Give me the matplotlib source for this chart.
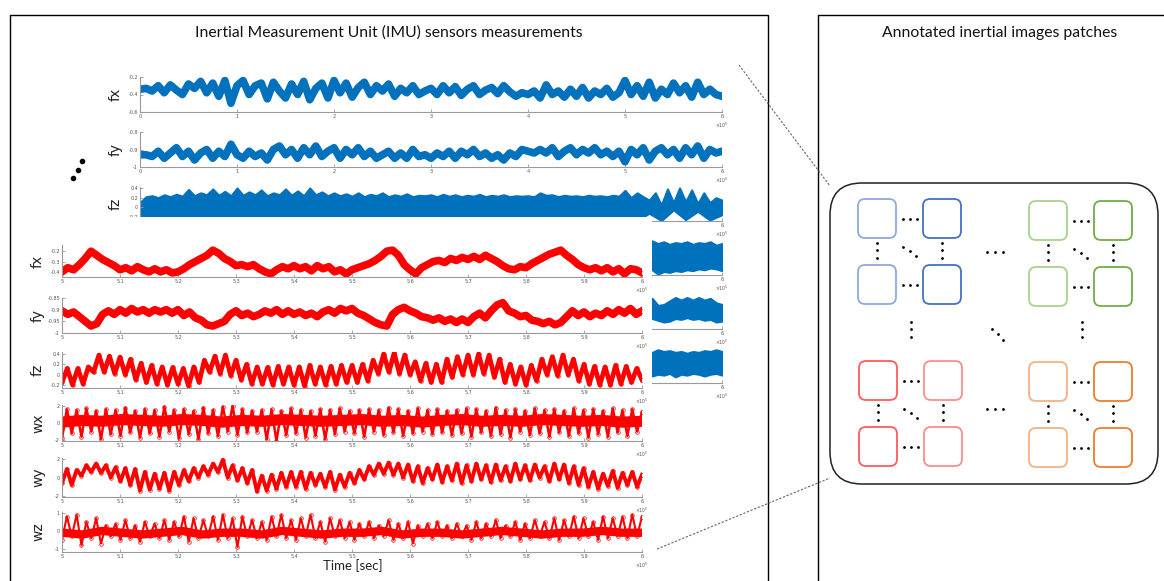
import numpy as np
import matplotlib
matplotlib.use('Agg')
import matplotlib.pyplot as plt
from matplotlib.patches import Rectangle, FancyBboxPatch

W, H = 1164, 581
plt.rcParams['axes.unicode_minus'] = False
TITLE_FONT = ['Lato', 'DejaVu Sans']

# ---------------- data ----------------
# blue stack: full recording, x in [0, 6e5]
blue_fx = [-0.34, -0.33, -0.36, -0.30, -0.38, -0.29, -0.35, -0.40, -0.28, -0.33, -0.25, -0.38, -0.27, -0.42, -0.24, -0.50,
           -0.30, -0.24, -0.40, -0.30, -0.27, -0.45, -0.26, -0.36, -0.44, -0.28, -0.40, -0.25, -0.46, -0.33, -0.27, -0.44,
           -0.24, -0.38, -0.27, -0.43, -0.32, -0.26, -0.40, -0.30, -0.36, -0.28, -0.42, -0.33, -0.38, -0.30, -0.40, -0.36,
           -0.33, -0.40, -0.30, -0.38, -0.31, -0.41, -0.34, -0.30, -0.40, -0.35, -0.32, -0.39, -0.30, -0.37, -0.42, -0.38,
           -0.40, -0.36, -0.44, -0.29, -0.40, -0.36, -0.43, -0.34, -0.42, -0.32, -0.44, -0.36, -0.40, -0.33, -0.43, -0.38,
           -0.24, -0.40, -0.30, -0.42, -0.26, -0.44, -0.34, -0.40, -0.27, -0.38, -0.30, -0.43, -0.26, -0.40, -0.34, -0.40,
           -0.42]
blue_fy = [-0.93, -0.93, -0.94, -0.91, -0.95, -0.92, -0.89, -0.94, -0.91, -0.96, -0.92, -0.90, -0.95, -0.91, -0.94, -0.87,
           -0.93, -0.95, -0.91, -0.94, -0.92, -0.96, -0.90, -0.88, -0.93, -0.90, -0.95, -0.89, -0.93, -0.88, -0.94, -0.91,
           -0.89, -0.95, -0.90, -0.93, -0.89, -0.94, -0.91, -0.95, -0.93, -0.91, -0.95, -0.92, -0.95, -0.90, -0.94, -0.93,
           -0.95, -0.92, -0.94, -0.91, -0.95, -0.91, -0.93, -0.90, -0.94, -0.92, -0.95, -0.93, -0.96, -0.92, -0.94, -0.90,
           -0.91, -0.92, -0.90, -0.92, -0.89, -0.94, -0.91, -0.89, -0.93, -0.90, -0.92, -0.89, -0.93, -0.91, -0.94, -0.91,
           -0.97, -0.90, -0.93, -0.89, -0.96, -0.91, -0.89, -0.93, -0.90, -0.95, -0.89, -0.93, -0.88, -0.95, -0.90, -0.92,
           -0.91]
blue_fz_hi = [0.10, 0.22, 0.24, 0.20, 0.26, 0.22, 0.27, 0.23, 0.37, 0.24, 0.30, 0.26, 0.38, 0.25, 0.33, 0.24,
              0.40, 0.25, 0.32, 0.26, 0.36, 0.24, 0.30, 0.26, 0.38, 0.25, 0.34, 0.24, 0.40, 0.26, 0.32, 0.24,
              0.30, 0.24, 0.28, 0.23, 0.30, 0.22, 0.27, 0.24, 0.30, 0.22, 0.26, 0.23, 0.28, 0.22, 0.25, 0.24,
              0.26, 0.22, 0.27, 0.23, 0.26, 0.22, 0.25, 0.23, 0.27, 0.22, 0.25, 0.23, 0.26, 0.22, 0.24, 0.23,
              0.24, 0.22, 0.30, 0.25, 0.26, 0.22, 0.25, 0.23, 0.24, 0.22, 0.25, 0.23, 0.24, 0.22, 0.25, 0.23,
              0.35, 0.20, 0.30, 0.22, 0.15, 0.30, 0.05, 0.38, 0.10, 0.40, 0.12, 0.36, 0.08, 0.30, 0.10, 0.20,
              0.15]
blue_fz_lo = [-0.24, -0.26, -0.24, -0.26, -0.24, -0.26, -0.24, -0.26, -0.24, -0.26, -0.24, -0.26, -0.24, -0.26,
              -0.24, -0.26, -0.24, -0.26, -0.24, -0.26, -0.24, -0.26, -0.24, -0.26, -0.24, -0.26, -0.24, -0.26,
              -0.24, -0.26, -0.24, -0.26, -0.24, -0.26, -0.24, -0.26, -0.24, -0.26, -0.24, -0.26, -0.24, -0.26,
              -0.12, -0.27, -0.05, -0.25, -0.08, -0.26, -0.15]
# right-hand ends of the hidden blue gyro panels, x in [5.28e5, 6e5]
blue_wx_hi = [1.9, 1.6, 1.8, 1.5, 1.7, 1.6, 1.8, 1.5, 1.7, 1.6, 1.8, 1.4, 1.6]
blue_wx_lo = [-1.4, -1.9, -1.6, -1.7, -1.5, -1.6, -1.4, -1.5, -1.3, -1.4, -1.2, -1.3, -1.5]
blue_wy_hi = [1.5, 0.7, 0.8, 1.2, 1.6, 1.3, 1.6, 1.3, 1.6, 1.3, 1.5, 1.0, 0.8]
blue_wy_lo = [-0.8, -1.0, -1.2, -1.1, -0.8, -0.9, -0.7, -0.9, -0.8, -1.0, -0.9, -1.2, -1.1]
blue_wz_hi = [1.5, 1.8, 1.6, 1.7, 1.5, 1.6, 1.4, 1.6, 1.5, 1.7, 1.6, 1.8, 1.6]
blue_wz_lo = [-1.2, -1.0, -1.1, -0.9, -1.3, -1.0, -1.1, -0.9, -1.0, -1.2, -1.0, -0.9, -1.1]

# red stack: zoom on x in [5e5, 6e5]
red_fx = [-0.40, -0.36, -0.38, -0.33, -0.27, -0.20, -0.24, -0.28, -0.31, -0.34,
          -0.38, -0.36, -0.39, -0.35, -0.38, -0.40, -0.37, -0.40, -0.38, -0.41,
          -0.40, -0.37, -0.33, -0.30, -0.27, -0.24, -0.19, -0.22, -0.27, -0.30,
          -0.34, -0.33, -0.35, -0.33, -0.37, -0.40, -0.42, -0.38, -0.35, -0.37,
          -0.34, -0.37, -0.35, -0.39, -0.34, -0.37, -0.35, -0.40, -0.38, -0.42,
          -0.38, -0.36, -0.34, -0.32, -0.29, -0.25, -0.20, -0.19, -0.24, -0.33,
          -0.38, -0.42, -0.36, -0.33, -0.30, -0.29, -0.31, -0.27, -0.29, -0.26,
          -0.28, -0.25, -0.28, -0.24, -0.27, -0.30, -0.34, -0.37, -0.38, -0.35,
          -0.36, -0.32, -0.29, -0.26, -0.23, -0.21, -0.19, -0.24, -0.28, -0.33,
          -0.36, -0.38, -0.36, -0.39, -0.36, -0.40, -0.37, -0.42, -0.37, -0.38,
          -0.41]
red_fy = [-0.905, -0.92, -0.91, -0.93, -0.95, -0.97, -0.96, -0.92, -0.905, -0.92,
          -0.90, -0.915, -0.895, -0.91, -0.90, -0.915, -0.90, -0.91, -0.90, -0.915,
          -0.90, -0.925, -0.91, -0.935, -0.945, -0.965, -0.97, -0.96, -0.95, -0.92,
          -0.905, -0.925, -0.915, -0.93, -0.92, -0.905, -0.915, -0.90, -0.92, -0.905,
          -0.92, -0.91, -0.925, -0.915, -0.93, -0.91, -0.90, -0.915, -0.895, -0.905,
          -0.895, -0.915, -0.925, -0.94, -0.955, -0.965, -0.97, -0.92, -0.90, -0.89,
          -0.905, -0.915, -0.93, -0.935, -0.945, -0.935, -0.95, -0.94, -0.955, -0.94,
          -0.955, -0.93, -0.915, -0.935, -0.905, -0.88, -0.87, -0.905, -0.915, -0.93,
          -0.925, -0.945, -0.95, -0.96, -0.95, -0.965, -0.955, -0.93, -0.905, -0.925,
          -0.91, -0.93, -0.915, -0.925, -0.905, -0.92, -0.90, -0.915, -0.895, -0.92,
          -0.905]
red_fz = [-0.15, 0.12, -0.20, 0.12, -0.18, 0.15, 0.05, 0.38, 0.05, 0.36, 0.02,
          0.34, 0.00, 0.30, -0.10, 0.22, -0.15, 0.18, -0.18, 0.15, -0.20, 0.14,
          -0.18, 0.12, -0.22, 0.15, -0.15, 0.28, 0.05, 0.36, 0.02, 0.38, -0.02,
          0.28, -0.10, 0.20, -0.18, 0.15, -0.18, 0.14, -0.20, 0.16, -0.18, 0.15,
          -0.20, 0.15, -0.22, 0.18, -0.18, 0.15, -0.20, 0.16, -0.18, 0.18, -0.15,
          0.18, -0.15, 0.20, -0.12, 0.28, 0.02, 0.40, 0.05, 0.42, 0.02, 0.38,
          0.00, 0.25, -0.12, 0.22, -0.15, 0.20, -0.15, 0.30, -0.05, 0.35, 0.00,
          0.38, 0.00, 0.40, 0.02, 0.38, -0.05, 0.30, -0.15, 0.20, -0.18, 0.15,
          -0.20, 0.18, -0.12, 0.30, 0.00, 0.35, -0.02, 0.38, 0.00, 0.30, -0.12,
          0.20, -0.18, 0.16, -0.20, 0.15, -0.20, 0.18, -0.18, 0.16, -0.15, 0.12,
          -0.10]
red_wx_peaks = [1.6, 1.5, 1.7, 1.4, 1.6, 1.5, 1.8, 1.4, 1.6, 1.5, 1.9, 1.5, 1.6, 1.4, 1.8, 1.5, 1.9, 2.0, 1.6, 1.4,
                1.5, 1.6, 1.4, 1.7, 1.5, 1.4, 1.6, 1.5, 1.7, 1.4, 1.5, 1.6, 1.5, 1.8, 1.6, 1.4, 1.7, 1.5, 1.6, 1.4,
                1.5, 1.7, 1.6, 1.4, 1.8, 1.5, 1.6, 1.4, 1.7, 1.5, 1.6, 1.4, 1.7, 1.5, 1.6, 1.4, 1.7, 1.5, 1.6, 1.3]
red_wx_troughs = [-1.8, -1.2, -1.6, -1.0, -1.9, -1.3, -1.5, -1.1, -1.7, -1.2, -1.6, -1.0, -1.8, -1.3, -1.9, -1.2,
                  -1.5, -1.0, -1.4, -1.1, -1.0, -1.9, -2.1, -1.4, -1.2, -1.7, -1.5, -1.9, -1.3, -1.0, -1.2, -1.6,
                  -1.0, -1.4, -1.1, -1.5, -1.2, -1.0, -1.3, -1.1, -1.4, -1.2, -1.6, -1.1, -1.5, -1.3, -1.7, -1.0,
                  -1.4, -1.2, -1.6, -1.1, -1.5, -1.2, -1.7, -1.3, -1.6, -1.1, -1.5, -1.0]
red_wx_core = [0.1, 0.3, 0.2, 0.4, 0.3, 0.2, 0.4, 0.3, 0.1, 0.3, 0.2, 0.4, 0.3, 0.2, 0.3,
               0.4, 0.2, 0.3, 0.1, 0.3, 0.4, 0.2, 0.3, 0.2, 0.4, 0.3, 0.2, 0.3, 0.1, 0.2]
red_wy_peaks = [0.9, 0.8, 1.3, 1.5, 1.3, 1.1, 1.0, 0.9, 0.6, 0.4, 0.5, 0.6, 0.8, 1.0, 1.2, 1.5, 1.9, 1.3,
                1.0, 0.8, 0.2, 0.3, 0.5, 0.6, 0.6, 0.5, 0.4, 0.6, 0.3, 0.5, 0.8, 1.2, 1.5, 1.6, 1.5, 1.4,
                1.2, 1.0, 1.4, 1.2, 1.5, 1.3, 1.5, 1.3, 1.4, 1.2, 1.5, 1.3, 1.4, 1.2, 1.5, 1.4, 1.2, 1.0,
                0.6, 0.4, 0.7, 0.5, 0.6, 0.3]
red_wy_troughs = [-0.6, -0.8, 0.2, 0.6, 0.5, 0.0, -0.4, -0.8, -1.4, -1.3, -1.2, -1.4, -0.8, -0.4, 0.0, 0.3, 0.6, 0.0,
                  -0.3, -0.6, -1.5, -1.4, -1.2, -1.0, -1.0, -1.2, -0.8, -1.0, -1.3, -1.0, -0.6, -0.2, 0.3, 0.4, 0.3, 0.0,
                  -0.4, -0.6, -0.2, -0.5, -0.3, -0.6, -0.4, -0.2, -0.5, -0.3, -0.4, -0.2, -0.3, 0.0, -0.4, -0.2, -0.6, -0.8,
                  -1.0, -1.2, -0.9, -1.1, -0.8, -1.0]
red_wz_peaks = [0.8, 0.9, 0.5, 0.7, 0.3, 0.4, 0.6, 0.3, 0.5, 0.4, 0.6, 0.5, 0.8, 0.7, 0.6, 0.8, 0.9, 0.7, 0.8, 0.6,
                0.5, 0.8, 0.9, 0.6, 0.7, 0.9, 0.5, 0.7, 0.6, 0.5, 0.4, 0.5, 0.3, 0.6, 0.4, 0.5, 0.3, 0.4, 0.5, 0.3,
                0.4, 0.3, 0.5, 0.4, 0.6, 0.3, 0.5, 0.4, 0.6, 0.5, 0.7, 0.6, 0.8, 0.7, 0.5, 0.8, 0.7, 0.8, 0.9, 0.8]
red_wz_troughs = [-0.5, -0.3, -0.8, -0.4, -0.7, -0.3, -0.5, -0.4, -0.6, -0.3, -0.4, -0.5, -0.3, -0.6, -0.4,
                  -0.3, -0.5, -0.4, -0.9, -0.3, -0.4, -0.5, -0.3, -0.4, -0.5, -0.3, -0.4, -0.6, -0.3, -0.4,
                  -0.5, -0.3, -0.4, -0.3, -0.5, -0.4, -0.7, -0.3, -0.4, -0.3, -0.4, -0.3, -0.5, -0.4, -0.3,
                  -0.4, -0.3, -0.5, -0.4, -0.3, -0.4, -0.5, -0.3, -0.4, -0.3, -0.5, -0.4, -0.3, -0.4, -0.3]
red_wz_core = [-0.1, -0.2, 0.0, -0.1, -0.2, -0.1, 0.0, -0.2, -0.1, -0.1, -0.2, 0.0, -0.1, -0.2, -0.1,
               -0.1, 0.0, -0.2, -0.1, -0.1, -0.2, -0.1, 0.0, -0.1, -0.2, -0.1, -0.1, 0.0, -0.1, -0.1]

BLUE = '#0072BD'
RED = '#FF0000'
GRAY = '#9a9a9a'

fig = plt.figure(figsize=(W / 100, H / 100), dpi=100)


def px_axes(x0, y0, x1, y1, z):
    ax = fig.add_axes([x0 / W, 1 - y1 / H, (x1 - x0) / W, (y1 - y0) / H])
    ax.set_zorder(z)
    return ax


def style(ax, xlim, xticks, ylim, yticks, label, hidden=False):
    # hidden=True: panel mostly lies under the red figure, only its right end shows
    ax.set_xlim(*xlim)
    ax.set_ylim(*ylim)
    ax.set_xticks(xticks)
    labels = ['%g' % (t / 1e5) for t in xticks]
    if hidden:
        labels = [''] * (len(labels) - 1) + labels[-1:]
    ax.set_xticklabels(labels)
    ax.set_yticks(yticks)
    ax.set_yticklabels([] if hidden else ['%g' % t for t in yticks])
    for s in ['top', 'right']:
        ax.spines[s].set_visible(False)
    for s in ['left', 'bottom']:
        ax.spines[s].set_color(GRAY)
        ax.spines[s].set_linewidth(0.8)
    ax.tick_params(direction='in', length=2.5, width=0.6, color=GRAY,
                   labelsize=3.5, labelcolor='#555555', pad=1.5)
    if not hidden:
        ax.set_ylabel(label, fontsize=10, color='#222222')
        ax.yaxis.set_label_coords(-17 / (ax.get_position().width * W), 0.5)
    ax.annotate('×10$^5$', xy=(1, 0), xycoords='axes fraction', xytext=(0, -9.5),
                textcoords='offset points', ha='center', va='center',
                fontsize=3.3, color='#555555')


# ---- blue stack (drawn first, partly hidden) ----
bx = (140, 722)
blue_rows = [('fx', 77, 112), ('fy', 132, 167), ('fz', 187, 221),
             ('wx', 240, 275), ('wy', 294, 329), ('wz', 348, 383)]
blue_ticks = np.arange(0, 6.01e5, 1e5)
for name, y0, y1 in blue_rows:
    ax = px_axes(bx[0], y0, bx[1], y1, 0)
    if name == 'fx':
        ax.plot(np.linspace(0, 6e5, len(blue_fx)), blue_fx, color=BLUE, lw=5.5,
                solid_joinstyle='round')
        style(ax, (0, 6e5), blue_ticks, (-0.6, -0.2), [-0.6, -0.4, -0.2], name)
    elif name == 'fy':
        ax.plot(np.linspace(0, 6e5, len(blue_fy)), blue_fy, color=BLUE, lw=5.5,
                solid_joinstyle='round')
        style(ax, (0, 6e5), blue_ticks, (-1, -0.8), [-1, -0.9, -0.8], name)
    elif name == 'fz':
        xh = np.linspace(0, 6e5, len(blue_fz_hi))
        xl = np.linspace(0, 6e5, len(blue_fz_lo))
        ax.fill_between(xh, blue_fz_hi, np.interp(xh, xl, blue_fz_lo), color=BLUE, lw=1.5,
                        edgecolor=BLUE)
        ax.set_ylabel(name)
        style(ax, (0, 6e5), blue_ticks, (-0.28, 0.42), [-0.2, 0, 0.2, 0.4], name)
        ax.set_xticklabels([''] * 6 + ['6'])
    else:
        hi, lo = {'wx': (blue_wx_hi, blue_wx_lo), 'wy': (blue_wy_hi, blue_wy_lo),
                  'wz': (blue_wz_hi, blue_wz_lo)}[name]
        xs = np.linspace(5.28e5, 6e5, len(hi))
        ax.fill_between(xs, hi, lo, color=BLUE, lw=1.5, edgecolor=BLUE)
        style(ax, (0, 6e5), blue_ticks, (-2, 2), [-2, 0, 2], name, hidden=True)

# white backdrop of the red figure laid on top of the blue one
cover = px_axes(18, 217, 652, 580, 1)
cover.set_xticks([])
cover.set_yticks([])
for s in cover.spines.values():
    s.set_visible(False)

# ---- red stack ----
rx = (62, 642)
red_ticks = np.arange(5e5, 6.001e5, 1e4)
mk = dict(marker='o', mfc='none', mec=RED, ms=2.6, mew=0.5)

ax = px_axes(rx[0], 245, rx[1], 277, 2)
ax.plot(np.linspace(5e5, 6e5, len(red_fx)), red_fx, color=RED, lw=5.5, **mk)
style(ax, (5e5, 6e5), red_ticks, (-0.45, -0.14), [-0.4, -0.3, -0.2], 'fx')

ax = px_axes(rx[0], 298, rx[1], 333, 2)
ax.plot(np.linspace(5e5, 6e5, len(red_fy)), red_fy, color=RED, lw=5.5, **mk)
style(ax, (5e5, 6e5), red_ticks, (-1, -0.85), [-1, -0.95, -0.9, -0.85], 'fy')

ax = px_axes(rx[0], 352, rx[1], 388, 2)
ax.plot(np.linspace(5e5, 6e5, len(red_fz)), red_fz, color=RED, lw=3.4, **mk)
style(ax, (5e5, 6e5), red_ticks, (-0.26, 0.44), [-0.2, 0, 0.2, 0.4], 'fz')


def zigzag(troughs, peaks):
    return np.column_stack([troughs, peaks]).ravel()


ax = px_axes(rx[0], 405, rx[1], 441, 2)
ax.plot(np.linspace(5e5, 6e5, len(red_wx_core)), red_wx_core, color=RED, lw=8)
wx = zigzag(red_wx_troughs, red_wx_peaks)
ax.plot(np.linspace(5e5, 6e5, len(wx)), wx, color=RED, lw=1.8, **mk)
style(ax, (5e5, 6e5), red_ticks, (-2.1, 2.1), [-2, 0, 2], 'wx')

ax = px_axes(rx[0], 458, rx[1], 497, 2)
wy = zigzag(red_wy_troughs, red_wy_peaks)
ax.plot(np.linspace(5e5, 6e5, len(wy)), wy, color=RED, lw=2.8, **mk)
style(ax, (5e5, 6e5), red_ticks, (-2.1, 2.1), [-2, 0, 2], 'wy')

ax = px_axes(rx[0], 512, rx[1], 552, 2)
ax.plot(np.linspace(5e5, 6e5, len(red_wz_core)), red_wz_core, color=RED, lw=6)
wz = zigzag(red_wz_troughs, red_wz_peaks)
ax.plot(np.linspace(5e5, 6e5, len(wz)), wz, color=RED, lw=1.5, **mk)
style(ax, (5e5, 6e5), red_ticks, (-1.17, 1.05), [-1, 0, 1], 'wz')

# ---- overlay: frames, titles, connectors, patch grid ----
ov = fig.add_axes([0, 0, 1, 1])
ov.set_zorder(5)
ov.set_xlim(0, W)
ov.set_ylim(H, 0)
ov.axis('off')

ov.add_patch(Rectangle((10, 15), 758, 620, fill=False, ec='black', lw=1.0))
ov.add_patch(Rectangle((818, 15), 420, 620, fill=False, ec='black', lw=1.0))
ov.text(389, 33, 'Inertial Measurement Unit (IMU) sensors measurements', ha='center',
        va='center', fontsize=11.3, family=TITLE_FONT, color='#111111')
ov.text(1000, 33, 'Annotated inertial images patches', ha='center', va='center',
        fontsize=11.3, family=TITLE_FONT, color='#111111')
ov.text(353, 566, 'Time [sec]', ha='center', va='center', fontsize=9.5,
        family=TITLE_FONT, color='#222222')

dash = dict(color='#666666', lw=0.8, ls=(0, (2, 1.5)))
ov.plot([739, 830], [65, 186], **dash)
ov.plot([657, 830], [549, 478], **dash)

# "more layers" dots
ov.scatter([82, 77.5, 73], [161, 169.5, 178], s=9, color='black')

ov.add_patch(FancyBboxPatch((830, 183), 328, 301, boxstyle='round,pad=0,rounding_size=32',
                            fill=False, ec='#222222', lw=1.1))

groups = [(858, 199, '#8EA9DB', '#4472C4'), (1029, 201, '#A9D18E', '#70AD47'),
          (859, 361, '#FF5C5C', '#FF8C8C'), (1029, 362, '#F4B183', '#ED7D31')]
sq_w, sq_h, step_x, step_y = 38, 39, 65, 66
dx, dy = [], []
for gx, gy, c_left, c_right in groups:
    for r in range(2):
        for c in range(2):
            ov.add_patch(FancyBboxPatch((gx + c * step_x, gy + r * step_y), sq_w, sq_h,
                                        boxstyle='round,pad=0,rounding_size=7', fill=False,
                                        ec=[c_left, c_right][c], lw=1.3))
    for r in range(2):  # horizontal ellipsis between columns
        yy = gy + r * step_y + sq_h / 2
        dx += [gx + 45, gx + 52, gx + 59]
        dy += [yy, yy, yy]
    for c in range(2):  # vertical ellipsis between rows
        xx = gx + c * step_x + sq_w / 2
        dx += [xx, xx, xx]
        dy += [gy + 44, gy + 51, gy + 59]
    dx += [gx + 45, gx + 52, gx + 58]  # diagonal
    dy += [gy + 48, gy + 52, gy + 57]
# between groups
dx += [987, 995, 1003, 987, 995, 1003, 911, 911, 911, 1082, 1082, 1082, 992, 998, 1003]
dy += [252, 252, 252, 409, 409, 409, 322, 329, 337, 322, 329, 337, 329, 334, 340]
ov.scatter(dx, dy, s=4, color='black', lw=0)

fig.savefig('out.png', dpi=100)
